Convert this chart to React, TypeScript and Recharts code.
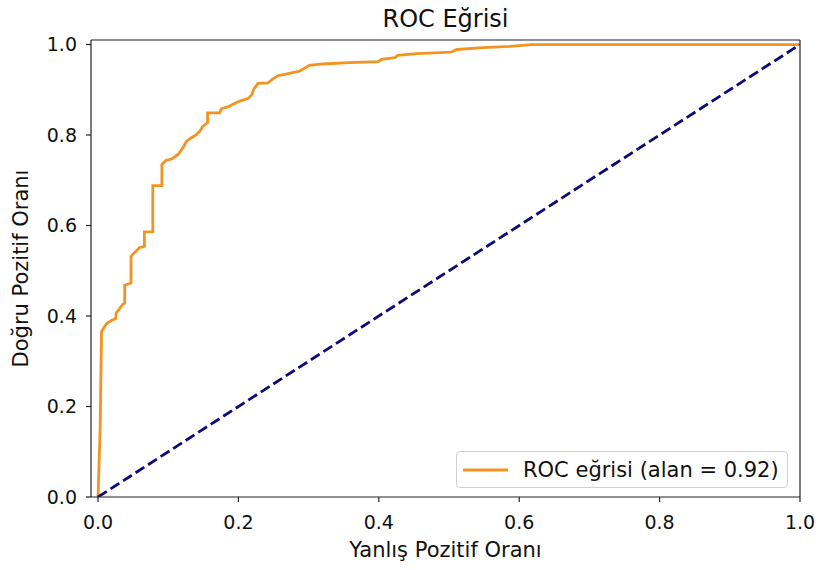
import { Legend, Line, LineChart, ReferenceLine, XAxis, YAxis } from "recharts";

const fpr = [
    0, 0.003, 0.005, 0.012, 0.019, 0.025, 0.026, 0.035, 0.038, 0.038,
    0.047, 0.047, 0.054, 0.059, 0.066, 0.066, 0.078, 0.078, 0.091, 0.091,
    0.097, 0.105, 0.114, 0.121, 0.126, 0.133, 0.14, 0.145, 0.149, 0.156,
    0.156, 0.173, 0.176, 0.185, 0.195, 0.202, 0.214, 0.219, 0.222, 0.228,
    0.242, 0.249, 0.256, 0.266, 0.287, 0.301, 0.32, 0.358, 0.399, 0.404,
    0.423, 0.427, 0.454, 0.503, 0.511, 0.549, 0.587, 0.618, 1.0,
];

const tpr = [
    0, 0.15, 0.366, 0.383, 0.39, 0.394, 0.407, 0.425, 0.429, 0.468,
    0.473, 0.532, 0.543, 0.551, 0.554, 0.586, 0.586, 0.688, 0.688, 0.735,
    0.744, 0.747, 0.757, 0.772, 0.786, 0.794, 0.801, 0.808, 0.819, 0.827,
    0.849, 0.849, 0.858, 0.862, 0.87, 0.875, 0.881, 0.889, 0.902, 0.914,
    0.915, 0.924, 0.931, 0.934, 0.941, 0.954, 0.957, 0.96, 0.962, 0.967,
    0.971, 0.976, 0.98, 0.983, 0.989, 0.993, 0.996, 1.0, 1.0,
];

const chanceX = [0, 1];
const chanceY = [0, 1];

const ticks = [0, 0.2, 0.4, 0.6, 0.8, 1.0];

const FONT = "'DejaVu Sans', sans-serif";
const ORANGE = "#f39322";
const NAVY = "#0c0c78";
const SPINE = "#222";

const rocData = fpr.map((x, i) => ({ fpr: x, tpr: tpr[i] }));
const chanceData = chanceX.map((x, i) => ({ fpr: x, tpr: chanceY[i] }));

function LegendBox() {
    return (
        <div
            style={{
                boxSizing: "border-box",
                width: 332,
                height: 37,
                border: "1px solid #d0d0d0",
                borderRadius: 4,
                background: "rgba(255,255,255,0.8)",
                display: "flex",
                alignItems: "center",
                fontFamily: FONT,
                fontSize: 21,
                color: "#111",
            }}
        >
            <svg width={66} height={10}>
                <line x1={6} x2={51} y1={5} y2={5} stroke={ORANGE} strokeWidth={2.8}/>
            </svg>
            <span>ROC eğrisi (alan = 0.92)</span>
        </div>
    );
}

export default function App() {
    return (
        <div style={{ position: "absolute", left: 0, top: 0 }}>
            <LineChart
                width={822}
                height={570}
                margin={{ top: 40, right: 22, bottom: 0, left: 0 }}
                style={{ fontFamily: FONT }}
            >
                <text x={445.5} y={27} textAnchor="middle" fontSize={24} fill="#111" fontFamily={FONT}>
                    ROC Eğrisi
                </text>

                <XAxis
                    dataKey="fpr"
                    type="number"
                    domain={[-0.01, 1.0]}
                    allowDataOverflow
                    ticks={ticks}
                    tickFormatter={(v: number) => v.toFixed(1)}
                    height={73}
                    stroke={SPINE}
                    axisLine={{ stroke: SPINE, strokeWidth: 1.2 }}
                    tickLine={{ stroke: SPINE, strokeWidth: 1.2 }}
                    tickSize={5}
                    tickMargin={14}
                    tick={{ fill: "#111", fontSize: 19 }}
                    label={{
                        content: ({ viewBox }: any) => (
                            <text
                                x={viewBox.x + viewBox.width / 2}
                                y={viewBox.y + 59.5}
                                textAnchor="middle"
                                fontSize={21}
                                fill="#111"
                            >
                                Yanlış Pozitif Oranı
                            </text>
                        ),
                    }}
                />

                <YAxis
                    type="number"
                    domain={[0, 1.01]}
                    allowDataOverflow
                    ticks={ticks}
                    tickFormatter={(v: number) => v.toFixed(1)}
                    width={91}
                    axisLine={{ stroke: SPINE, strokeWidth: 1.2 }}
                    tickLine={{ stroke: SPINE, strokeWidth: 1.2 }}
                    tickSize={5}
                    tickMargin={9}
                    tick={{ fill: "#111", fontSize: 19 }}
                    label={{
                        content: ({ viewBox }: any) => {
                            const cx = 27.5;
                            const cy = viewBox.y + viewBox.height / 2;
                            return (
                                <text
                                    x={cx}
                                    y={cy}
                                    transform={`rotate(-90, ${cx}, ${cy})`}
                                    textAnchor="middle"
                                    fontSize={21}
                                    fill="#111"
                                >
                                    Doğru Pozitif Oranı
                                </text>
                            );
                        },
                    }}
                />

                <ReferenceLine y={1.01} stroke={SPINE} strokeWidth={1.2}/>
                <ReferenceLine x={1.0} stroke={SPINE} strokeWidth={1.2}/>

                <Line
                    data={rocData}
                    dataKey="tpr"
                    type="linear"
                    stroke={ORANGE}
                    strokeWidth={2.8}
                    dot={false}
                    activeDot={false}
                    isAnimationActive={false}
                    legendType="none"
                />
                <Line
                    data={chanceData}
                    dataKey="tpr"
                    type="linear"
                    stroke={NAVY}
                    strokeWidth={2.8}
                    strokeDasharray="10.4 4.5"
                    dot={false}
                    activeDot={false}
                    isAnimationActive={false}
                    legendType="none"
                />

                <Legend
                    layout="horizontal"
                    align="center"
                    verticalAlign="middle"
                    content={() => <LegendBox/>}
                    wrapperStyle={{ left: 456, top: 451, width: 332, height: 37 }}
                />
            </LineChart>
        </div>
    );
}
